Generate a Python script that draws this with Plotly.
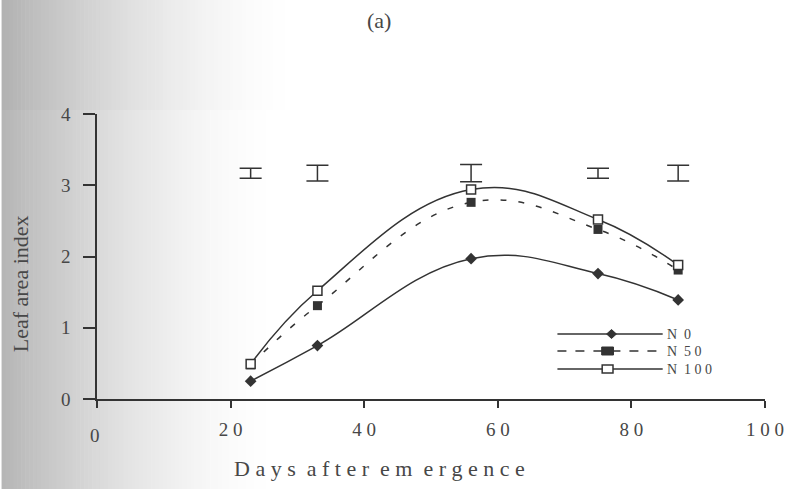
import plotly.graph_objects as go

# ---------------- data ----------------
days = [23, 33, 56, 75, 87]
lai_n0 = [0.25, 0.75, 1.97, 1.76, 1.39]
lai_n50 = [0.48, 1.31, 2.76, 2.38, 1.81]
lai_n100 = [0.49, 1.52, 2.94, 2.52, 1.88]
lsd_days = [23, 33, 56, 75, 87]
lsd_center = [3.17, 3.17, 3.17, 3.17, 3.17]
lsd_half = [0.07, 0.11, 0.12, 0.07, 0.11]
series_names = ["N 0", "N 50", "N 100"]
x_tick_vals = [0, 20, 40, 60, 80, 100]
x_tick_labels = ["0", "20", "40", "60", "80", "100"]
y_tick_vals = [0, 1, 2, 3, 4]

# ---------------- geometry ----------------
W, H = 796, 489
L, R, T, B = 97, 20, 114, 90
PW, PH = W - L - R, H - T - B
INK = "#333333"
TXT = "#474747"
FONT = "Liberation Serif"
NB = "\u00a0"


def px(x):
    return (x - L) / PW


def py(y):
    return (H - B - y) / PH


def spaced(s):
    # typewriter-like letter spacing as in the scanned figure
    return NB.join(ch for ch in s if ch != " ")


def legend_label(s):
    head, tail = s.split(" ")
    return head + NB + NB + spaced(tail)


shapes = []
annotations = []

# ---------------- scanned-paper background (gray fade on the left) ----------------
STRIP = 4
for (y0p, y1p, reach, amp) in [(0, 110, 300, 78), (110, H, 280, 74)]:
    for xs in range(0, 320, STRIP):
        t = max(0.0, 1 - (xs + STRIP / 2) / reach)
        g = int(round(255 - amp * t ** 1.6))
        if g >= 255:
            continue
        shapes.append(dict(type="rect", xref="paper", yref="paper", layer="below",
                           x0=px(xs), x1=px(xs + STRIP + 0.6), y0=py(y1p), y1=py(y0p),
                           fillcolor="rgb({0},{0},{0})".format(g), line=dict(width=0)))

fig = go.Figure()

line_common = dict(shape="spline", smoothing=1.2, color=INK, width=1.5)

fig.add_trace(go.Scatter(x=days, y=lai_n0, mode="lines+markers", name=series_names[0],
                         line=dict(**line_common),
                         marker=dict(symbol="diamond", size=9, color=INK)))
fig.add_trace(go.Scatter(x=days, y=lai_n50, mode="lines+markers", name=series_names[1],
                         line=dict(**line_common, dash="6px,12px"),
                         marker=dict(symbol="square", size=9, color=INK)))
fig.add_trace(go.Scatter(x=days, y=lai_n100, mode="lines+markers", name=series_names[2],
                         line=dict(**line_common),
                         marker=dict(symbol="square", size=9, color="white",
                                     line=dict(color=INK, width=1.5))))
fig.add_trace(go.Scatter(x=lsd_days, y=lsd_center, mode="markers", showlegend=False,
                         marker=dict(size=1, color="rgba(0,0,0,0)"),
                         error_y=dict(type="data", array=lsd_half, visible=True,
                                      color=INK, thickness=1.5, width=11)))

# ---------------- hand-drawn legend (long keys) ----------------
leg_rows = [334, 351, 369]
lx0, lx1 = 565, 672
for i, ry in enumerate(leg_rows):
    dash = "dash" if i == 1 else "solid"
    shapes.append(dict(type="line", xref="paper", yref="paper",
                       x0=px(lx0), x1=px(lx1), y0=py(ry), y1=py(ry),
                       line=dict(color=INK, width=1.5, dash=dash)))
    annotations.append(dict(text=legend_label(series_names[i]), xref="paper", yref="paper",
                            x=px(lx1 + 2), y=py(ry), xanchor="left", yanchor="middle",
                            showarrow=False, font=dict(family=FONT, size=14, color=TXT)))
# key markers
cx, cy = 620, leg_rows[0]
shapes.append(dict(type="path", xref="paper", yref="paper",
                   path="M {} {} L {} {} L {} {} L {} {} Z".format(
                       px(cx - 5), py(cy), px(cx), py(cy - 4.5), px(cx + 5), py(cy), px(cx), py(cy + 4.5)),
                   fillcolor=INK, line=dict(color=INK, width=1)))
cx, cy = 616, leg_rows[1]
shapes.append(dict(type="rect", xref="paper", yref="paper",
                   x0=px(cx - 6), x1=px(cx + 6), y0=py(cy + 4), y1=py(cy - 4),
                   fillcolor=INK, line=dict(color=INK, width=1)))
cx, cy = 616, leg_rows[2]
shapes.append(dict(type="rect", xref="paper", yref="paper",
                   x0=px(cx - 5.5), x1=px(cx + 5.5), y0=py(cy + 4), y1=py(cy - 4),
                   fillcolor="white", line=dict(color=INK, width=1.5)))


# ---------------- texts ----------------
def note(text, x, y, size, angle=0):
    return dict(text=text, xref="paper", yref="paper", x=px(x), y=py(y),
                xanchor="center", yanchor="middle", textangle=angle,
                showarrow=False, font=dict(family=FONT, size=size, color=TXT))


annotations += [
    note("(a)", 384, 20, 22),
    note("Leaf area index", 19, 284, 22, -90),
    note("D a y s  a f t e r  e m  e r g e n c e", 384, 469, 22),
    note(x_tick_labels[0], 95, 435, 19),
]

x_ticktext = [""] + [spaced(s) for s in x_tick_labels[1:]]

fig.update_layout(
    width=W, height=H,
    margin=dict(l=L, r=R, t=T, b=B, pad=0),
    paper_bgcolor="white", plot_bgcolor="rgba(0,0,0,0)",
    showlegend=False,
    font=dict(family=FONT, color=TXT),
    shapes=shapes, annotations=annotations,
    xaxis=dict(range=[0, 100], tickvals=x_tick_vals, ticktext=x_ticktext,
               showgrid=False, zeroline=False, showline=True, linecolor=INK, linewidth=1.5,
               ticks="outside", ticklen=7, tickwidth=1.5, tickcolor=INK,
               ticklabelstandoff=5, tickfont=dict(family=FONT, size=19, color=TXT)),
    yaxis=dict(range=[0, 4], tickvals=y_tick_vals,
               showgrid=False, zeroline=False, showline=True, linecolor=INK, linewidth=1.5,
               ticks="outside", ticklen=12, tickwidth=1.5, tickcolor=INK,
               ticklabelstandoff=9, tickfont=dict(family=FONT, size=19, color=TXT)),
)

fig.write_html("out.html")
